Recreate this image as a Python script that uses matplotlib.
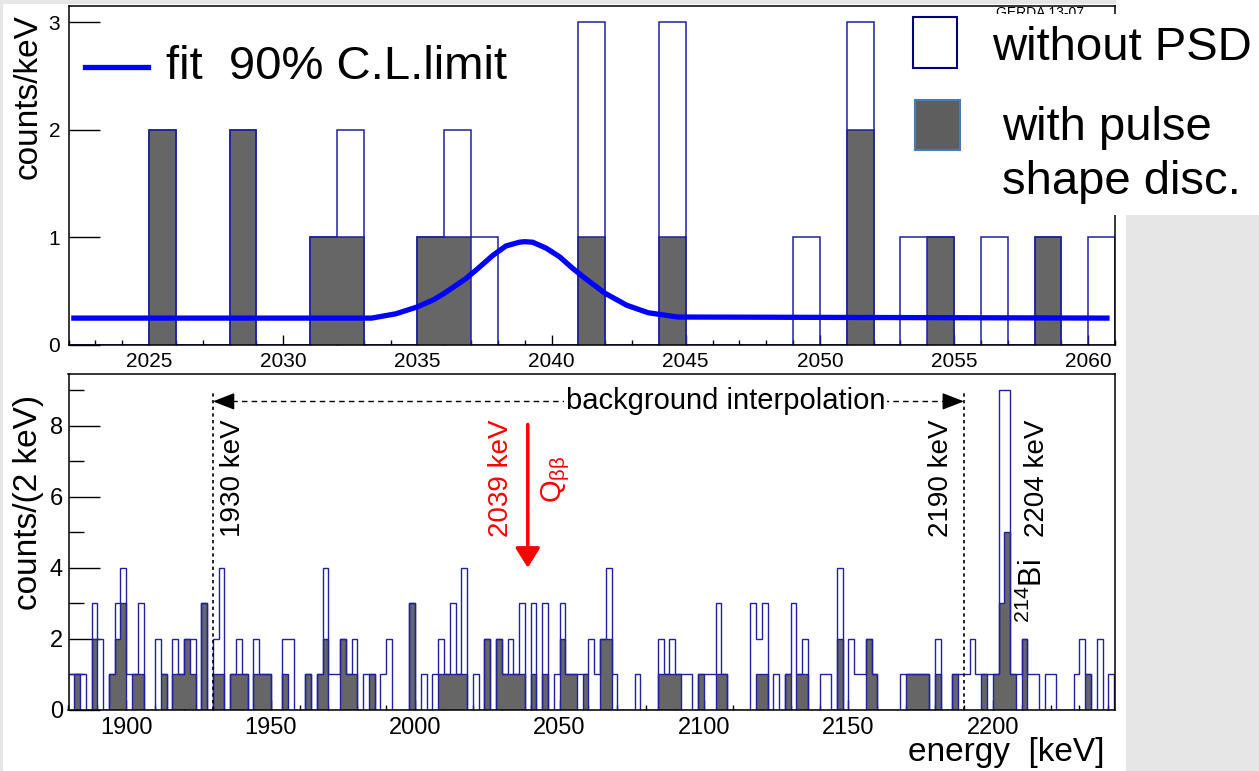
import matplotlib
matplotlib.use('Agg')
import matplotlib.pyplot as plt
import numpy as np
from matplotlib.patches import Rectangle
from matplotlib.lines import Line2D
from matplotlib.ticker import MultipleLocator

plt.rcParams['font.family'] = ['Liberation Sans', 'DejaVu Sans']
plt.rcParams['mathtext.fontset'] = 'custom'
plt.rcParams['mathtext.rm'] = 'Liberation Sans'

# ---------------------------------------------------------------
# Ust panel: 1 keV binler, 2022-2061 keV
top_bin_start = 2022
top_bin_width = 1
top_without_psd = [0, 0, 0, 2, 0, 0, 2, 0, 0, 1,
                   2, 0, 0, 1, 2, 1, 0, 0, 0, 3,
                   0, 0, 3, 0, 0, 0, 0, 1, 0, 3,
                   0, 1, 1, 0, 1, 0, 1, 0, 1]
top_with_psd = [0, 0, 0, 2, 0, 0, 2, 0, 0, 1,
                1, 0, 0, 1, 1, 0, 0, 0, 0, 1,
                0, 0, 1, 0, 0, 0, 0, 0, 0, 2,
                0, 0, 1, 0, 0, 0, 1, 0, 0]

# fit egrisi (resimden okunan noktalar)
fit_energy = [2022.2, 2033.3, 2034.2, 2035.0, 2035.6, 2036.0, 2036.8, 2037.3,
              2037.8, 2038.3, 2038.8, 2039.0, 2039.3, 2039.8, 2040.3, 2040.8,
              2041.2, 2042.0, 2042.8, 2043.6, 2044.7, 2060.7]
fit_counts = [0.25, 0.25, 0.29, 0.354, 0.42, 0.48, 0.615, 0.72,
              0.83, 0.92, 0.955, 0.96, 0.955, 0.90, 0.82, 0.71,
              0.63, 0.48, 0.37, 0.30, 0.26, 0.25]

# ---------------------------------------------------------------
# Alt panel: 2 keV binler, 1880-2242 keV
bot_bin_start = 1880
bot_bin_width = 2
bot_without_psd = [1, 1, 1, 0, 3, 2, 0, 1, 3, 4,
                   1, 1, 3, 0, 0, 2, 1, 0, 2, 1,
                   2, 2, 0, 3, 0, 2, 4, 0, 1, 2,
                   1, 0, 2, 1, 1, 0, 0, 2, 2, 0,
                   0, 1, 0, 1, 4, 1, 1, 2, 1, 2,
                   0, 1, 1, 0, 1, 2, 0, 0, 0, 3,
                   0, 1, 0, 1, 2, 1, 3, 1, 4, 0,
                   1, 0, 2, 0, 2, 1, 2, 1, 3, 0,
                   3, 0, 3, 0, 1, 3, 1, 1, 1, 1,
                   2, 1, 2, 4, 1, 0, 0, 0, 1, 0,
                   0, 0, 2, 1, 2, 1, 1, 1, 0, 1,
                   1, 1, 3, 1, 0, 0, 0, 0, 3, 2,
                   3, 0, 1, 0, 1, 3, 1, 2, 0, 0,
                   1, 1, 0, 4, 0, 2, 1, 1, 2, 1,
                   0, 0, 0, 0, 1, 1, 1, 1, 1, 0,
                   2, 0, 0, 1, 1, 1, 2, 1, 1, 1,
                   1, 9, 9, 1, 1, 2, 1, 1, 0, 1,
                   1, 0, 0, 0, 1, 2, 1, 0, 2, 0,
                   1]
bot_with_psd = [0, 1, 0, 0, 2, 0, 0, 1, 2, 3,
                0, 1, 1, 0, 0, 0, 1, 0, 1, 1,
                2, 1, 0, 3, 0, 1, 1, 0, 1, 1,
                1, 0, 1, 1, 1, 0, 0, 1, 0, 0,
                0, 1, 0, 1, 2, 0, 0, 2, 1, 1,
                0, 0, 1, 0, 0, 0, 0, 0, 0, 3,
                0, 0, 0, 0, 1, 1, 1, 1, 1, 0,
                0, 0, 2, 0, 2, 1, 1, 1, 1, 0,
                1, 0, 1, 0, 0, 2, 1, 1, 0, 1,
                0, 0, 2, 2, 0, 0, 0, 0, 0, 0,
                0, 0, 1, 1, 1, 1, 0, 0, 0, 1,
                0, 0, 1, 1, 0, 0, 0, 0, 0, 1,
                1, 0, 0, 0, 1, 0, 1, 1, 0, 0,
                0, 0, 0, 2, 0, 0, 0, 0, 2, 1,
                0, 0, 0, 0, 0, 1, 1, 1, 1, 0,
                1, 0, 0, 1, 0, 0, 0, 0, 1, 0,
                1, 3, 5, 1, 0, 2, 0, 0, 0, 0,
                0, 0, 0, 0, 0, 0, 1, 0, 0, 0,
                0]

# isaretler
window_low, window_high = 1930, 2190
q_bb = 2039
bi_line = 2204

# ---------------------------------------------------------------
W, H = 1259, 771
def fx(x):
    return x / W
def fy(y):
    return 1 - y / H

line_blue = '#2020a0'
fill_gray = '#666666'

fig = plt.figure(figsize=(W / 100, H / 100), dpi=100)
fig.patch.set_facecolor('#e6e6e6')
# beyaz ROOT tuvali
fig.add_artist(Rectangle((fx(3), fy(771)), (1126 - 3) / W, (771 - 4) / H,
                         transform=fig.transFigure, facecolor='white',
                         edgecolor='none', zorder=-5))

ax1 = fig.add_axes([fx(68.5), fy(345), (1115 - 68.5) / W, (345 - 6) / H])
ax2 = fig.add_axes([fx(68.5), fy(710), (1115 - 68.5) / W, (710 - 374) / H])

# --- ust panel
top_edges = top_bin_start + top_bin_width * np.arange(len(top_without_psd) + 1)
ax1.stairs(top_with_psd, top_edges, fill=True, facecolor=fill_gray,
           edgecolor=line_blue, linewidth=1.1, zorder=2)
ax1.stairs(top_without_psd, top_edges, fill=False, color=line_blue,
           linewidth=1.1, baseline=0, zorder=3)
ax1.plot(fit_energy, fit_counts, color='#0000ff', linewidth=3.8, zorder=4)
ax1.set_xlim(2022, 2061)
ax1.set_ylim(0, 3.15)
ax1.xaxis.set_major_locator(MultipleLocator(5))
ax1.xaxis.set_minor_locator(MultipleLocator(1))
ax1.yaxis.set_major_locator(MultipleLocator(1))
ax1.tick_params(axis='x', which='major', direction='in', length=7.5, width=1, labelsize=15, pad=5)
ax1.tick_params(axis='x', which='minor', direction='in', length=3.8, width=1)
ax1.tick_params(axis='y', which='major', direction='in', length=22, width=1, labelsize=15, pad=6)

# --- alt panel
bot_edges = bot_bin_start + bot_bin_width * np.arange(len(bot_without_psd) + 1)
ax2.stairs(bot_with_psd, bot_edges, fill=True, facecolor=fill_gray,
           edgecolor=line_blue, linewidth=1.0, zorder=2)
ax2.stairs(bot_without_psd, bot_edges, fill=False, color=line_blue,
           linewidth=1.0, baseline=0, zorder=3)
ax2.set_xlim(1880, 2242.3)
ax2.set_ylim(0, 9.45)
ax2.xaxis.set_major_locator(MultipleLocator(50))
ax2.xaxis.set_minor_locator(MultipleLocator(10))
ax2.yaxis.set_major_locator(MultipleLocator(2))
ax2.yaxis.set_minor_locator(MultipleLocator(1))
ax2.tick_params(axis='x', which='major', direction='in', length=7.5, width=1, labelsize=17, pad=5)
ax2.tick_params(axis='x', which='minor', direction='in', length=3.8, width=1)
ax2.tick_params(axis='y', which='major', direction='in', length=22, width=1, labelsize=17, pad=4)
ax2.tick_params(axis='y', which='minor', direction='in', length=11, width=1)

for ax in (ax1, ax2):
    for s in ax.spines.values():
        s.set_linewidth(1.1)
        s.set_zorder(5)

# pencere cizgileri
ax2.vlines([window_low, window_high], 0, 9.0, colors='black', linewidth=1.2,
           linestyles=(0, (2, 2)), zorder=4)
ax2.plot([window_low + 3, window_high - 3], [8.68, 8.68], color='black',
         linewidth=1.0, linestyle=(0, (4, 3)), zorder=4)
for tip, tail in ((window_low, window_low + 4), (window_high, window_high - 4)):
    ax2.annotate('', xy=(tip, 8.68), xytext=(tail, 8.68),
                 arrowprops=dict(arrowstyle='-|>,head_length=0.9,head_width=0.35',
                                 color='black', lw=1.0, shrinkA=0, shrinkB=0,
                                 mutation_scale=15), zorder=5)
ax2.text(2107.5, 8.68, 'background interpolation', ha='center', va='center',
         fontsize=21, zorder=6,
         bbox=dict(facecolor='white', edgecolor='none', pad=1.5))

ax2.text(1937.0, 8.17, '1930 keV', rotation=90, ha='center', va='top', fontsize=20)
ax2.text(2182.1, 8.17, '2190 keV', rotation=90, ha='center', va='top', fontsize=20)
ax2.text(2215.3, 8.17, '2204 keV', rotation=90, ha='center', va='top', fontsize=20)
ax2.text(2214.2, 2.45, r'$\mathregular{^{214}Bi}$', rotation=90, ha='center',
         va='bottom', fontsize=22)

# Q_bb oku
ax2.annotate('', xy=(q_bb, 4.0), xytext=(q_bb, 8.03),
             arrowprops=dict(arrowstyle='-|>,head_length=0.8,head_width=0.5',
                             color='#ff0000', lw=2.5, shrinkA=0, shrinkB=0,
                             mutation_scale=15), zorder=6)
ax2.text(2029.9, 8.17, '2039 keV', rotation=90, ha='center', va='top',
         fontsize=20, color='#ff0000')
ax2.text(2048.6, 5.83, r'$\mathregular{Q_{\beta\beta}}$', rotation=90, ha='center',
         va='bottom', fontsize=21, color='#ff0000')

# eksen basliklari
fig.text(fx(28), fy(97), 'counts/keV', rotation=90, ha='center', va='center', fontsize=24)
fig.text(fx(29), fy(502), 'counts/(2 keV)', rotation=90, ha='center', va='center', fontsize=24)
fig.text(fx(1104), fy(752), 'energy  [keV]', ha='right', va='center', fontsize=24)

# fit aciklamasi
fig.add_artist(Line2D([fx(85), fx(148)], [fy(67), fy(67)], color='#0000ff',
                      linewidth=3.8, transform=fig.transFigure, zorder=6))
fig.text(fx(166), fy(67), 'fit  90% C.L.limit', ha='left', va='center', fontsize=34, zorder=6)

# sag ust aciklama kutusu (GERDA yazisi kismen altinda kaliyor)
fig.text(fx(1040), fy(13), 'GERDA 13-07', ha='center', va='center', fontsize=10, zorder=6)
fig.add_artist(Rectangle((fx(900), fy(215)), (W - 900) / W, (215 - 14) / H,
                         transform=fig.transFigure, facecolor='white',
                         edgecolor='none', zorder=7))
fig.add_artist(Rectangle((fx(1116), fy(215)), (W - 1116) / W, 215 / H,
                         transform=fig.transFigure, facecolor='white',
                         edgecolor='none', zorder=7))
fig.add_artist(Rectangle((fx(913), fy(68)), 44 / W, 51 / H, transform=fig.transFigure,
                         facecolor='white', edgecolor='#000080', linewidth=1.5, zorder=8))
fig.add_artist(Rectangle((fx(915), fy(150)), 45 / W, 50 / H, transform=fig.transFigure,
                         facecolor='#5e5e5e', edgecolor='#4a7ab5', linewidth=1.5, zorder=8))
fig.text(fx(992), fy(48), 'without PSD', ha='left', va='center', fontsize=34, zorder=8)
fig.text(fx(1002), fy(128), 'with pulse', ha='left', va='center', fontsize=34, zorder=8)
fig.text(fx(1002), fy(182), 'shape disc.', ha='left', va='center', fontsize=34, zorder=8)

fig.savefig('out.png', dpi=100, facecolor=fig.get_facecolor())
plt.close(fig)
